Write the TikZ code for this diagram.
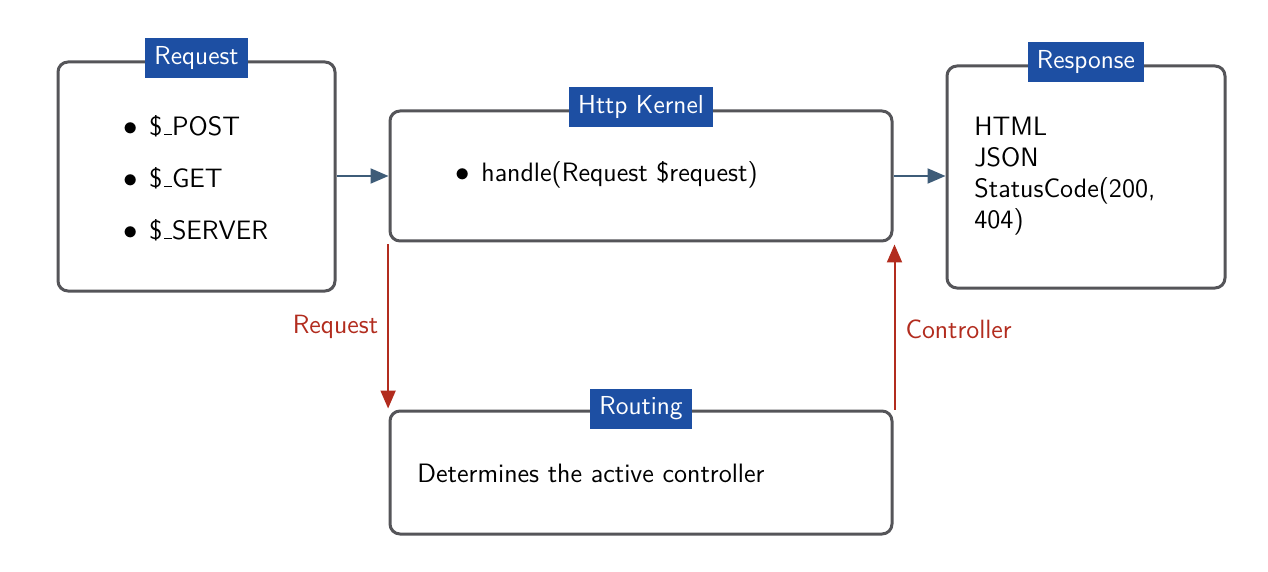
\documentclass[tikz,border=0pt]{standalone}
\usetikzlibrary{arrows.meta,positioning}
\definecolor{titleblue}{HTML}{1D4FA3}
\definecolor{boxgray}{HTML}{555559}
\definecolor{arrowblue}{HTML}{3E5C78}
\definecolor{arrowred}{HTML}{B22C1E}
\tikzset{
  box/.style={draw=boxgray, line width=1.5pt, rounded corners=5pt, inner sep=0pt},
  boxtitle/.style={fill=titleblue, text=white, inner xsep=4.5pt, minimum height=20pt, inner ysep=0pt, font=\sffamily\fontsize{13}{15}\selectfont},
  txt/.style={inner sep=0pt, anchor=west, font=\sffamily\fontsize{13.3}{15.6}\selectfont},
  flowarrow/.style={draw=arrowblue, line width=1pt, -{Triangle[length=9pt,width=7.5pt]}},
  redarrow/.style={draw=arrowred, line width=1pt, -{Triangle[length=9pt,width=7.5pt]}},
  redlabel/.style={text=arrowred, inner sep=0pt, font=\sffamily\fontsize{13.2}{15}\selectfont}
}
\newcommand{\bitem}[1]{\makebox[13pt][l]{$\bullet$}#1}
\newcommand{\usc}{\leavevmode\kern.06em\vbox{\hrule width.3em}}
\begin{document}
\begin{tikzpicture}[x=0.5pt,y=-0.5pt]
\useasboundingbox (0,0) rectangle (1268,572);
% boxes
\node[box, minimum width=138.5pt, minimum height=114.5pt] (req) at (196.5,176.5) {};
\node[box, minimum width=251pt, minimum height=65pt] (kern) at (641,176) {};
\node[box, minimum width=139pt, minimum height=111pt] (resp) at (1086,177) {};
\node[box, minimum width=251pt, minimum height=61.5pt] (rout) at (641,472.5) {};
% titles
\node[boxtitle, yshift=1pt] (reqt) at (req.north) {Request};
\node[boxtitle, yshift=1pt] (kernt) at (kern.north) {Http Kernel};
\node[boxtitle, yshift=1.2pt] (respt) at (resp.north) {Response};
\node[boxtitle, yshift=0.5pt] (routt) at (rout.north) {Routing};
% contents
\node[txt] (i1) at (123,126) {\bitem{\$\usc POST}};
\node[txt] (i2) at (123,178) {\bitem{\$\usc GET}};
\node[txt] (i3) at (123,230) {\bitem{\$\usc SERVER}};
\node[txt] (k1) at (455,175) {\bitem{handle(Request \$request)}};
\node[txt, align=left] (r1) at (974,176) {HTML\\JSON\\StatusCode(200,\\404)};
\node[txt] (d1) at (417,473) {Determines the active controller};
% connectors
\draw[flowarrow] (req.east |- kern.west) -- (kern.west);
\draw[flowarrow] (kern.east) -- (kern.east -| resp.west);
\draw[redarrow] ([xshift=-0.2pt,yshift=-1pt]kern.south west) -- node[redlabel, left=4.5pt] (lreq) {Request} ([xshift=-0.2pt,yshift=0.5pt]rout.north west);
\draw[redarrow] ([xshift=0.5pt]rout.north east) -- node[redlabel, right=5pt, yshift=-1pt] (lctl) {Controller} ([xshift=0.5pt,yshift=-1pt]kern.south east);
\end{tikzpicture}
\end{document}
